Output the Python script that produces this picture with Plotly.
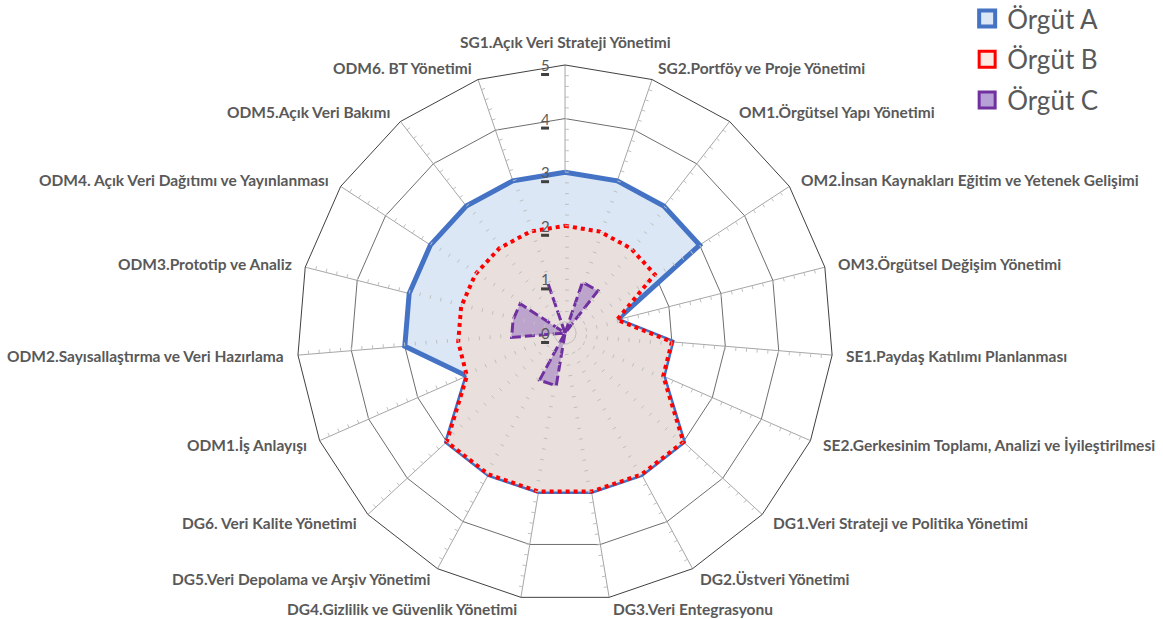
import math
import plotly.graph_objects as go

# Maturity dimensions (clockwise from the top)
categories = [
    "SG1.Açık Veri Strateji Yönetimi",
    "SG2.Portföy ve Proje Yönetimi",
    "OM1.Örgütsel Yapı Yönetimi",
    "OM2.İnsan Kaynakları Eğitim ve Yetenek Gelişimi",
    "OM3.Örgütsel Değişim Yönetimi",
    "SE1.Paydaş Katılımı Planlanması",
    "SE2.Gerkesinim Toplamı, Analizi ve İyileştirilmesi",
    "DG1.Veri Strateji ve Politika Yönetimi",
    "DG2.Üstveri Yönetimi",
    "DG3.Veri Entegrasyonu",
    "DG4.Gizlilik ve Güvenlik Yönetimi",
    "DG5.Veri Depolama ve Arşiv Yönetimi",
    "DG6. Veri Kalite Yönetimi",
    "ODM1.İş Anlayışı",
    "ODM2.Sayısallaştırma ve Veri Hazırlama",
    "ODM3.Prototip ve Analiz",
    "ODM4. Açık Veri Dağıtımı ve Yayınlanması",
    "ODM5.Açık Veri Bakımı",
    "ODM6. BT Yönetimi",
]

org_a = [3, 3, 3, 3, 1, 2, 2, 3, 3, 3, 3, 3, 3, 2, 3, 3, 3, 3, 3]
org_b = [2, 2, 2, 2, 1, 2, 2, 3, 3, 3, 3, 3, 3, 2, 2, 2, 2, 2, 2]
org_c = [0, 1, 1, 0, 0, 0, 0, 0, 0, 0, 1, 1, 0, 0, 1, 1, 1, 0, 1]

series_names = ["Örgüt A", "Örgüt B", "Örgüt C"]
radial_ticks = [0, 1, 2, 3, 4, 5]
R_MAX = 5

TEXT = "#595959"
FONT = "Lato"
W, H = 1163, 619

# Polar area (paper fractions) and its pixel geometry
dom_x = [0.2554, 0.7163]
dom_y = [0.0291, 0.895]
cx = (dom_x[0] + dom_x[1]) / 2 * W
cy = (1 - (dom_y[0] + dom_y[1]) / 2) * H
rad = (dom_x[1] - dom_x[0]) / 2 * W


def closed(seq):
    return list(seq) + [seq[0]]


def to_paper(px, py):
    return px / W, 1 - py / H


fig = go.Figure()

fig.add_trace(go.Scatterpolar(
    r=closed(org_a), theta=closed(categories), name=series_names[0],
    mode="lines", fill="toself", fillcolor="#dbe7f5",
    line=dict(color="#4472c4", width=5), showlegend=False,
))
fig.add_trace(go.Scatterpolar(
    r=closed(org_b), theta=closed(categories), name=series_names[1],
    mode="lines", fill="toself", fillcolor="#e9e0dd",
    line=dict(color="#ff0000", width=4, dash="dot"), showlegend=False,
))
fig.add_trace(go.Scatterpolar(
    r=closed(org_c), theta=closed(categories), name=series_names[2],
    mode="lines", fill="toself", fillcolor="rgba(128,80,180,0.42)",
    line=dict(color="#7030a0", width=3, dash="10px,4px"), showlegend=False,
))

# Minor tick marks along every spoke, drawn on an overlaid linear polar axis
step = 360.0 / len(categories)
tick_len = 0.07
tr, tt = [], []
for i in range(len(categories)):
    a = i * step
    for k in range(1, 25):
        r0 = k * 0.2
        tr += [r0, math.hypot(r0, tick_len), None]
        tt += [a, a + math.degrees(math.atan(tick_len / r0)), None]
fig.add_trace(go.Scatterpolar(
    r=tr, theta=tt, mode="lines", subplot="polar2",
    line=dict(color="#bfbfbf", width=1), showlegend=False, hoverinfo="skip",
))

# Square legend keys
legend_styles = [
    dict(color="#dbe7f5", line=dict(color="#4472c4", width=4)),
    dict(color="#fbe9e4", line=dict(color="#ff0000", width=3)),
    dict(color="#b7a0d6", line=dict(color="#7030a0", width=3)),
]
for k, (name, mk) in enumerate(zip(series_names, legend_styles)):
    fig.add_trace(go.Scatterpolar(
        r=[None], theta=[None], mode="markers", subplot="polar2", name=name,
        legendgroup=f"g{k}",
        marker=dict(symbol="square", size=17, **mk),
    ))

annotations = []
# Category labels around the outer ring
pad = 12
for i, label in enumerate(categories):
    ang = math.radians(i * step)
    s, c = math.sin(ang), math.cos(ang)
    px = cx + (rad + pad) * s
    py = cy - (rad + pad) * c
    if abs(s) < 0.05:
        xa = "center"
    else:
        xa = "left" if s > 0 else "right"
    ya = "bottom" if c > 0.95 else "middle"
    x, y = to_paper(px, py)
    annotations.append(dict(
        x=x, y=y, xref="paper", yref="paper", text=label, showarrow=False,
        xanchor=xa, yanchor=ya,
        font=dict(family=FONT, size=15.5, color=TEXT, weight="bold"),
    ))

# Radial value labels beside the top spoke
shapes = []
for v in radial_ticks:
    py = cy - v / R_MAX * rad
    x, y = to_paper(cx - 20, py)
    annotations.append(dict(
        x=x, y=y, xref="paper", yref="paper", text=str(v), showarrow=False,
        xanchor="center", yanchor="middle",
        font=dict(family=FONT, size=15, color=TEXT),
    ))
    x0, y0 = to_paper(cx - 24, py + 8)
    x1, y1 = to_paper(cx - 16, py + 11)
    shapes.append(dict(type="rect", xref="paper", yref="paper",
                       x0=x0, x1=x1, y0=y0, y1=y1,
                       fillcolor="#404040", line=dict(width=0)))

domain = dict(x=dom_x, y=dom_y)

fig.update_layout(
    width=W, height=H,
    margin=dict(l=0, r=0, t=0, b=0, autoexpand=False),
    paper_bgcolor="white",
    polar=dict(
        domain=domain,
        bgcolor="white",
        gridshape="linear",
        radialaxis=dict(
            range=[0, R_MAX], tickvals=radial_ticks, angle=90,
            showline=False, showticklabels=False, ticks="",
            gridcolor="#6e6e6e", gridwidth=1,
        ),
        angularaxis=dict(
            direction="clockwise", rotation=90,
            linecolor="#404040", linewidth=1,
            gridcolor="#a6a6a6", gridwidth=1, ticks="",
            showticklabels=False,
        ),
    ),
    polar2=dict(
        domain=domain,
        bgcolor="rgba(0,0,0,0)",
        radialaxis=dict(range=[0, R_MAX], visible=False),
        angularaxis=dict(direction="clockwise", rotation=90, visible=False),
    ),
    legend=dict(
        x=0.8316, y=1.008, xanchor="left", yanchor="top",
        font=dict(family=FONT, size=26, color=TEXT),
        bgcolor="rgba(0,0,0,0)", tracegroupgap=4, traceorder="grouped",
        itemwidth=30,
    ),
    annotations=annotations,
    shapes=shapes,
    showlegend=True,
)

fig.write_html("out.html")
